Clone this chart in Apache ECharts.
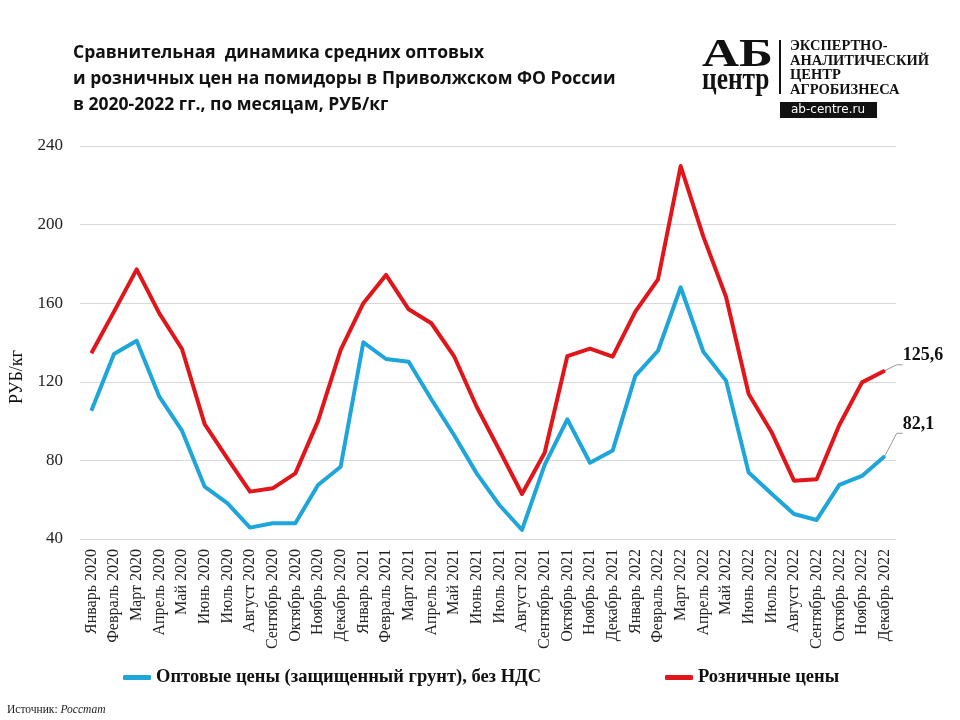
<!DOCTYPE html>
<html><head><meta charset="utf-8">
<script src="https://cdn.jsdelivr.net/npm/echarts@6/dist/echarts.min.js"></script>
<style>html,body{margin:0;padding:0;background:#fff}#c{width:960px;height:720px}</style>
</head><body><div id="c"></div>
<script>
const months = ['Январь 2020','Февраль 2020','Март 2020','Апрель 2020','Май 2020','Июнь 2020','Июль 2020','Август 2020','Сентябрь 2020','Октябрь 2020','Ноябрь 2020','Декабрь 2020',
'Январь 2021','Февраль 2021','Март 2021','Апрель 2021','Май 2021','Июнь 2021','Июль 2021','Август 2021','Сентябрь 2021','Октябрь 2021','Ноябрь 2021','Декабрь 2021',
'Январь 2022','Февраль 2022','Март 2022','Апрель 2022','Май 2022','Июнь 2022','Июль 2022','Август 2022','Сентябрь 2022','Октябрь 2022','Ноябрь 2022','Декабрь 2022'];
const wholesale = [105.3,134.1,140.9,112.4,95.1,66.6,58.2,45.8,48,48,67.5,76.8,
140.1,131.6,130.2,111.1,92.9,73.4,57.3,44.6,77.7,100.9,78.8,85,
123,135.8,168.1,135.3,120.6,73.8,63.2,52.7,49.7,67.5,72.1,82.1];
const retail = [134.5,155.7,177.2,154.8,136.7,98.5,81,64.1,65.8,73.4,100,136.2,
160,174.4,156.9,149.8,133.1,107.3,85.3,62.9,83.9,133.1,136.9,132.8,
155.7,172.1,229.8,193.9,163.3,113.8,94.6,69.7,70.4,98,119.7,125.6];
const yTicks = {min: 40, max: 240, interval: 40};
const seriesNames = ['Оптовые цены (защищенный грунт), без НДС', 'Розничные цены'];
const titleLines = ['Сравнительная  динамика средних оптовых', 'и розничных цен на помидоры в Приволжском ФО России', 'в 2020-2022 гг., по месяцам, РУБ/кг'];

const BLUE = '#1EA6DA', RED = '#E0161B';
const serif = '"Liberation Serif","Times New Roman",serif';
const chart = echarts.init(document.getElementById('c'), null, {renderer: 'canvas'});

function endLabel(arr, dy, color) {
  const last = arr.length - 1;
  return arr.map((v, i) => i === last ? {
    value: v,
    symbol: 'circle', symbolSize: 2,
    itemStyle: {color: color},
    label: {show: true, position: 'right', offset: [12, dy],
      formatter: p => String(p.value).replace('.', ','),
      fontFamily: serif, fontWeight: 'bold', fontSize: 18, color: '#111'},
    labelLine: {show: true, smooth: false, length2: 6, lineStyle: {color: '#999', width: 1}}
  } : {value: v, symbol: 'none'});
}

const legendText = {fontFamily: serif, fontWeight: 'bold', fontSize: 18.5, color: '#111'};

chart.setOption({
  animation: false,
  backgroundColor: '#fff',
  grid: {left: 80, right: 64, top: 146, bottom: 181},
  legend: [
    {left: 123, top: 668, padding: 0, data: [seriesNames[0]], icon: 'roundRect', itemWidth: 28, itemHeight: 5, itemGap: 3, textStyle: legendText},
    {left: 665, top: 668, padding: 0, data: [seriesNames[1]], icon: 'roundRect', itemWidth: 28, itemHeight: 5, itemGap: 3, textStyle: legendText}
  ],
  xAxis: {
    type: 'category', data: months, boundaryGap: true,
    axisLine: {show: false}, axisTick: {show: false},
    axisLabel: {rotate: 90, interval: 0, margin: 10, fontFamily: serif, fontSize: 16, color: '#222'}
  },
  yAxis: {
    type: 'value', min: yTicks.min, max: yTicks.max, interval: yTicks.interval,
    axisLine: {show: false}, axisTick: {show: false},
    axisLabel: {margin: 17, fontFamily: serif, fontSize: 17, color: '#222'},
    splitLine: {lineStyle: {color: '#d9d9d9', width: 1}}
  },
  series: [
    {name: seriesNames[0], type: 'line', data: endLabel(wholesale, -32, BLUE), symbol: 'circle', symbolSize: 2, showSymbol: true,
      lineStyle: {color: BLUE, width: 4, join: 'round'}, itemStyle: {color: BLUE}, z: 3},
    {name: seriesNames[1], type: 'line', data: endLabel(retail, -15, RED), symbol: 'circle', symbolSize: 2, showSymbol: true,
      lineStyle: {color: RED, width: 4, join: 'round'}, itemStyle: {color: RED}, z: 2}
  ],
  graphic: [
    {type: 'text', left: 73, top: 40, style: {text: titleLines.join('\n'), fontFamily: '"Open Sans",sans-serif', fontWeight: 'bold', fontSize: 17.5, lineHeight: 26, fill: '#111'}},
    {type: 'text', x: 17, y: 377, rotation: Math.PI / 2, style: {text: 'РУБ/кг', fontFamily: serif, fontSize: 18, fill: '#111', align: 'center', verticalAlign: 'middle'}},
    {type: 'text', left: 7, top: 704, style: {rich: {a: {fontFamily: serif, fontSize: 11.5, fill: '#222'}, b: {fontFamily: serif, fontSize: 11.5, fontStyle: 'italic', fill: '#222'}}, text: '{a|Источник: }{b|Росстат}'}},
    // logo
    {type: 'group', x: 702, y: 35, scaleX: 1.25, children: [
      {type: 'text', x: 0, y: 0, style: {text: 'АБ', fontFamily: serif, fontWeight: 'bold', fontSize: 41, fill: '#111'}},
    ]},
    {type: 'group', x: 702, y: 65, scaleX: 0.82, children: [
      {type: 'text', x: 0, y: 0, style: {text: 'центр', fontFamily: serif, fontWeight: 'bold', fontSize: 31, fill: '#111'}},
    ]},
    {type: 'rect', shape: {x: 779, y: 40, width: 2, height: 54}, style: {fill: '#111'}},
    {type: 'text', x: 790, y: 39, style: {text: 'ЭКСПЕРТНО-\nАНАЛИТИЧЕСКИЙ\nЦЕНТР\nАГРОБИЗНЕСА', fontFamily: serif, fontWeight: 'bold', fontSize: 14.5, lineHeight: 14.5, fill: '#111'}},
    {type: 'rect', shape: {x: 780, y: 102, width: 97, height: 16}, style: {fill: '#111'}},
    {type: 'text', x: 828, y: 110, style: {text: 'ab-centre.ru', fontFamily: '"DejaVu Sans",sans-serif', fontSize: 12, fill: '#fff', align: 'center', verticalAlign: 'middle'}}
  ]
});
</script></body></html>
